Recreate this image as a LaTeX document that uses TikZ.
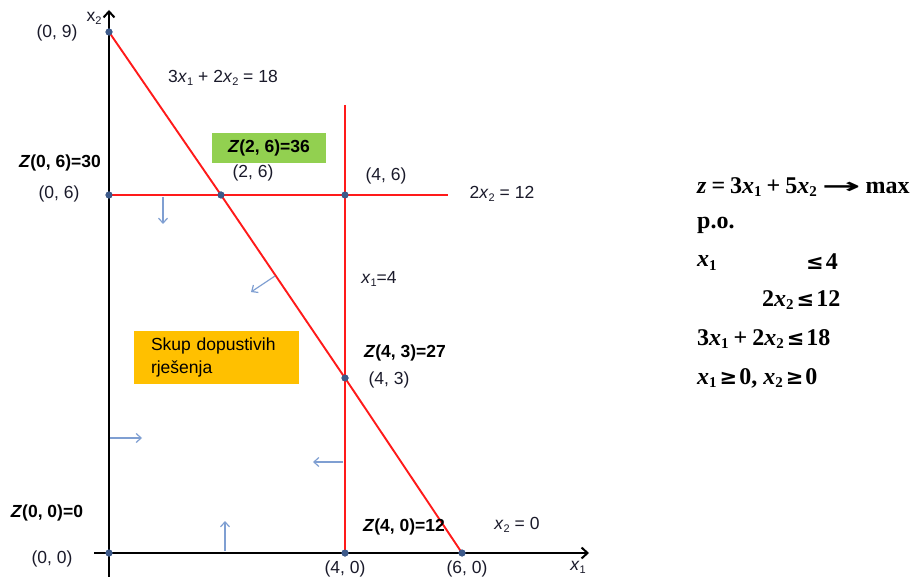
\documentclass[tikz,border=0pt]{standalone}
\usepackage{fontspec}
\setmainfont{Liberation Sans}
\newfontfamily\serifb{Liberation Serif}
\newfontfamily\djv{DejaVu Sans}
\usetikzlibrary{arrows.meta}
\definecolor{redl}{HTML}{FF1A1A}
\definecolor{dotc}{HTML}{3D5A8A}
\definecolor{arrc}{HTML}{7F9FD2}
\definecolor{greenb}{HTML}{92D050}
\definecolor{orangeb}{HTML}{FFC000}
\definecolor{txt}{HTML}{1A1A2A}
\newcommand\sbs[1]{\raisebox{-0.35ex}{\fontsize{11}{11}\selectfont #1}}
\newcommand\ssb[1]{\raisebox{-0.3ex}{\fontsize{15}{15}\selectfont #1}}
\newcommand\vx{\textit{x}}
\newcommand\gp{\hspace{5pt}}
\newcommand\mle{{\fontsize{21}{21}\selectfont\djv\bfseries ≤}}
\newcommand\mge{{\fontsize{21}{21}\selectfont\djv\bfseries ≥}}
\newcommand\marr{{\fontsize{21}{21}\selectfont\djv\bfseries\scalebox{2.2}[1]{→}}}
\begin{document}
\begin{tikzpicture}[x=1pt,y=-1pt,
 lbl/.style={font=\fontsize{17.5}{21}\selectfont, text=txt, inner sep=0pt},
 blbl/.style={font=\fontsize{17.5}{21}\selectfont\bfseries, text=black, inner sep=0pt},
 cline/.style={draw=redl, line width=1.9pt},
 vdot/.style={circle, fill=dotc, inner sep=0pt, minimum size=7pt},
 dirarr/.style={draw=arrc, line width=1.2pt, -{Straight Barb[length=5pt,width=9pt]}},
 axis/.style={draw=black, line width=2pt, -{Straight Barb[length=6pt,width=11pt]}},
 frm/.style={font=\fontsize{24}{26}\selectfont\serifb\bfseries, anchor=west, inner sep=0pt, text=black}]
\useasboundingbox[fill=white] (0,0) rectangle (916,577);

% axes
\coordinate (xs) at (94,553);
\coordinate (xe) at (589,553);
\coordinate (ys) at (109,577);
\coordinate (ye) at (109,10);
\draw[axis] (xs) -- (xe);
\draw[axis] (ys) -- (ye);

% vertices
\node[vdot] (P09) at (109,32) {};
\node[vdot] (P06) at (109,195) {};
\node[vdot] (P26) at (221,195) {};
\node[vdot] (P46) at (345,195) {};
\node[vdot] (P43) at (345,378) {};
\node[vdot] (P40) at (345,553) {};
\node[vdot] (P60) at (462,553) {};
\node[vdot] (P00) at (109,553) {};
\coordinate (HE) at (448,195);
\coordinate (VT) at (345,105);

% constraint lines
\draw[cline] (P06.center) -- (P26.center) -- (P46.center) -- (HE);
\draw[cline] (VT) -- (P46.center) -- (P43.center) -- (P40.center);
\draw[cline] (P09.center) -- (P26.center) -- (P43.center) -- (P60.center);
\node[vdot] at (P09) {};
\node[vdot] at (P06) {};
\node[vdot] at (P26) {};
\node[vdot] at (P46) {};
\node[vdot] at (P43) {};
\node[vdot] at (P40) {};
\node[vdot] at (P60) {};
\node[vdot] at (P00) {};

% direction arrows
\coordinate (a1s) at (163,197); \coordinate (a1e) at (163,224);
\coordinate (a2s) at (275,276); \coordinate (a2e) at (251,292);
\coordinate (a3s) at (110,438); \coordinate (a3e) at (142,438);
\coordinate (a4s) at (343,462); \coordinate (a4e) at (313,462);
\coordinate (a5s) at (225,551); \coordinate (a5e) at (225,521);
\draw[dirarr] (a1s) -- (a1e);
\draw[dirarr] (a2s) -- (a2e);
\draw[dirarr] (a3s) -- (a3e);
\draw[dirarr] (a4s) -- (a4e);
\draw[dirarr] (a5s) -- (a5e);

% boxes
\node[fill=greenb, minimum width=114pt, minimum height=30pt, inner sep=0pt,
      font=\fontsize{17.5}{21}\selectfont\bfseries] (gbox) at (269,148) {\textit{Z}(2, 6)=36};
\node[fill=orangeb, minimum width=165pt, minimum height=53pt, inner xsep=17pt, inner ysep=0pt,
      text width=131pt, align=left, font=\fontsize{17.5}{23}\selectfont] (obox) at (216.5,357.5)
      {Skup dopustivih\\rješenja};

% labels
\node[lbl] (l09) at (57,33) {(0, 9)};
\node[lbl] (leq3) at (223,78) {3\vx\sbs{1} + 2\vx\sbs{2} = 18};
\node[blbl] (z06) at (60,163) {\textit{Z}(0, 6)=30};
\node[lbl] (l06) at (59,194) {(0, 6)};
\node[lbl] (l26) at (253,173) {(2, 6)};
\node[lbl] (l46) at (386,176) {(4, 6)};
\node[lbl] (leq2) at (502,194) {2\vx\sbs{2} = 12};
\node[lbl] (leq1) at (379,279) {\vx\sbs{1}=4};
\node[blbl] (z43) at (405,353) {\textit{Z}(4, 3)=27};
\node[lbl] (l43) at (389,380) {(4, 3)};
\node[blbl] (z40) at (404,527) {\textit{Z}(4, 0)=12};
\node[lbl] (l40) at (345,569) {(4, 0)};
\node[lbl] (l60) at (467,569) {(6, 0)};
\node[lbl] (lx20) at (517,525) {\vx\sbs{2} = 0};
\node[lbl] (ax1) at (578,567) {\vx\sbs{1}};
\node[lbl] (ax2) at (94,18) {x\sbs{2}};
\node[blbl] (z00) at (47,513) {\textit{Z}(0, 0)=0};
\node[lbl] (l00) at (52,559) {(0, 0)};

% model
\node[frm] (f1) at (697,187) {\textit{z}\gp=\gp3\textit{x}\ssb{1}\gp+\gp5\textit{x}\ssb{2}\gp\marr\gp max};
\node[frm] (f2) at (697,225) {p.o.};
\node[frm] (f3a) at (697,263) {\textit{x}\ssb{1}};
\node[frm] (f3b) at (806,262) {\mle\hspace{2pt}4};
\node[frm] (f4) at (762,300) {2\textit{x}\ssb{2}\hspace{3pt}\mle\hspace{2pt}12};
\node[frm] (f5) at (697,339) {3\textit{x}\ssb{1}\gp+\gp2\textit{x}\ssb{2}\hspace{3pt}\mle\hspace{2pt}18};
\node[frm] (f6) at (697,378) {\textit{x}\ssb{1}\hspace{3pt}\mge\hspace{2pt}0, \textit{x}\ssb{2}\hspace{3pt}\mge\hspace{2pt}0};
\end{tikzpicture}
\end{document}
